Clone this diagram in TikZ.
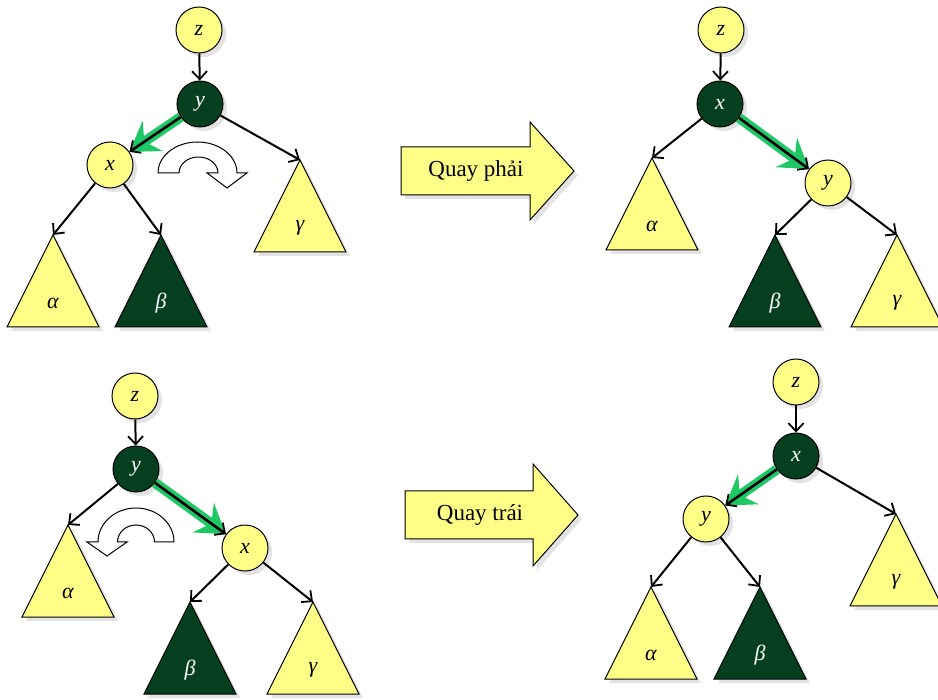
\documentclass[tikz,border=0pt]{standalone}
\usepackage{fontspec}
\setmainfont{Liberation Serif}
\usetikzlibrary{arrows.meta,shadows,calc}
\definecolor{ylw}{RGB}{255,255,136}
\definecolor{dkg}{RGB}{4,64,32}
\definecolor{grn}{RGB}{30,200,100}
\tikzset{
  shd/.style={drop shadow={shadow xshift=4pt,shadow yshift=-4pt,fill=black!22}},
  lnode/.style={circle,draw=black,line width=1pt,fill=ylw,minimum size=46pt,inner sep=0pt,
    font=\fontsize{22}{26}\selectfont\itshape,shd},
  dnode/.style={lnode,fill=dkg,text=white},
  edgearrow/.style={line width=2pt,-{Straight Barb[length=8pt,width=15pt,line width=1.8pt]}},
  gback/.style={grn,line width=10pt,-{Stealth[length=28pt,width=36pt,inset=10pt]}},
  gfront/.style={line width=2.6pt,-{Straight Barb[length=8pt,width=15pt,line width=1.8pt]}},
  ytri/.style={draw=black,line width=1pt,fill=ylw,shd},
  dtri/.style={draw=black,line width=1pt,fill=dkg,shd},
  ylab/.style={font=\fontsize{22}{26}\selectfont\itshape},
  dlab/.style={font=\fontsize{22}{26}\selectfont\itshape,text=white},
  bigarrow/.style={draw=black,line width=1pt,fill=ylw,shd},
  bigtext/.style={font=\fontsize{23}{27}\selectfont},
  rotarrow/.style={draw=black,line width=1pt,fill=white},
}
\newcommand\mytri[5]{%
  \coordinate (#1) at (#2,#3);
  \path[#4] (#1) -- ++(-46,92) -- ++(92,0) -- cycle;
  \node[#5] (#1l) at ($(#1)+(0,68)$) {\textit{\csname lab#1\endcsname}};
}
\begin{document}
\begin{tikzpicture}[x=1pt,y=-1pt]
\useasboundingbox (0,0) rectangle (938,700);

% ---------- top left ----------
\def\labaA{α}\def\labaB{β}\def\labaC{γ}
\mytri{aA}{53}{235}{ytri}{ylab}
\mytri{aB}{161}{235}{dtri}{dlab}
\mytri{aC}{300}{160}{ytri}{ylab}
\node[lnode] (az) at (199,30) {z};
\node[dnode] (ay) at (200,104) {y};
\node[lnode] (ax) at (110,165) {x};
\draw[edgearrow] (az) -- (ay);
\draw[edgearrow] (ay) -- (aC);
\draw[edgearrow] (ax) -- (aA);
\draw[edgearrow] (ax) -- (aB);
\draw[gback] (ay) -- (ax);
\draw[gfront] (ay) -- (ax);
\path[rotarrow] (158,173) arc[start angle=180,end angle=360,x radius=39.5,y radius=31]
  -- (247,173) -- (227,188) -- (207,173) -- (218,173)
  arc[start angle=360,end angle=180,x radius=19.5,y radius=16] -- cycle;

% ---------- arrow 1 ----------
\path[bigarrow] (401,147) -- (530,147) -- (530,122) -- (574,171) -- (530,220) -- (530,195) -- (401,195) -- cycle;
\node[bigtext] (t1) at (476,171) {Quay phải};

% ---------- top right ----------
\def\labbA{α}\def\labbB{β}\def\labbC{γ}
\mytri{bA}{652}{158}{ytri}{ylab}
\mytri{bB}{775}{235}{dtri}{dlab}
\mytri{bC}{897}{235}{ytri}{ylab}
\node[lnode] (bz) at (721,30) {z};
\node[dnode] (bx) at (720,104) {x};
\node[lnode] (by) at (828,183) {y};
\draw[edgearrow] (bz) -- (bx);
\draw[edgearrow] (bx) -- (bA);
\draw[edgearrow] (by) -- (bB);
\draw[edgearrow] (by) -- (bC);
\draw[gback] (bx) -- (by);
\draw[gfront] (bx) -- (by);

% ---------- bottom left ----------
\def\labcA{α}\def\labcB{β}\def\labcC{γ}
\mytri{cA}{68}{525}{ytri}{ylab}
\mytri{cB}{190}{602}{dtri}{dlab}
\mytri{cC}{313}{602}{ytri}{ylab}
\node[lnode] (cz) at (135,396) {z};
\node[dnode] (cy) at (136,469) {y};
\node[lnode] (cx) at (245,548) {x};
\draw[edgearrow] (cz) -- (cy);
\draw[edgearrow] (cy) -- (cA);
\draw[edgearrow] (cx) -- (cB);
\draw[edgearrow] (cx) -- (cC);
\draw[gback] (cy) -- (cx);
\draw[gfront] (cy) -- (cx);
\path[rotarrow] (174,542) arc[start angle=0,end angle=-180,x radius=38,y radius=34]
  -- (87,542) -- (107,556) -- (127,542) -- (117.5,542)
  arc[start angle=180,end angle=360,x radius=18.5,y radius=17] -- cycle;

% ---------- arrow 2 ----------
\path[bigarrow] (405,491) -- (533,491) -- (533,464) -- (578,515) -- (533,566) -- (533,539) -- (405,539) -- cycle;
\node[bigtext] (t2) at (480,515) {Quay trái};

% ---------- bottom right ----------
\def\labdA{α}\def\labdB{β}\def\labdC{γ}
\mytri{dA}{651}{587}{ytri}{ylab}
\mytri{dB}{760}{587}{dtri}{dlab}
\mytri{dC}{896}{514}{ytri}{ylab}
\node[lnode] (dz) at (796,382) {z};
\node[dnode] (dx) at (796,456) {x};
\node[lnode] (dy) at (706,519) {y};
\draw[edgearrow] (dz) -- (dx);
\draw[edgearrow] (dx) -- (dC);
\draw[edgearrow] (dy) -- (dA);
\draw[edgearrow] (dy) -- (dB);
\draw[gback] (dx) -- (dy);
\draw[gfront] (dx) -- (dy);
\end{tikzpicture}
\end{document}
